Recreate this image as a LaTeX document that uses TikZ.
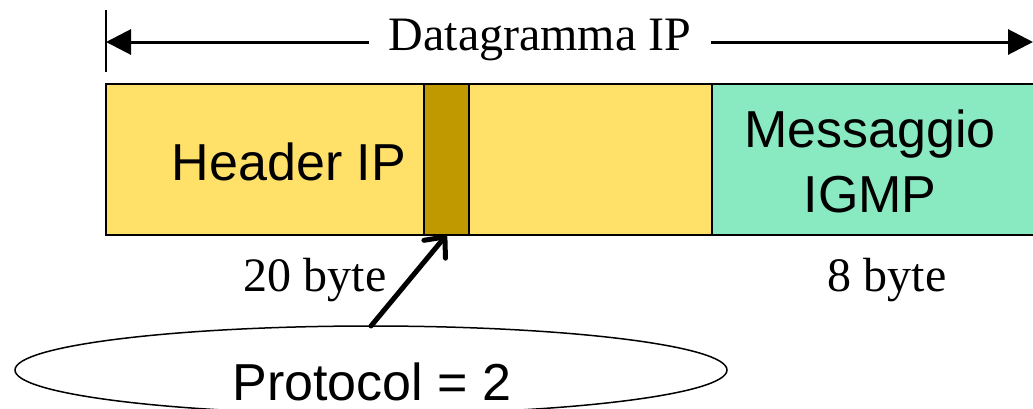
\documentclass[tikz,border=0pt]{standalone}
\usepackage{fontspec}
\setmainfont{Liberation Serif}
\setsansfont{Liberation Sans}
\usetikzlibrary{shapes.geometric, arrows.meta, positioning}
\definecolor{hdryellow}{RGB}{255,224,105}
\definecolor{protofield}{RGB}{192,152,0}
\definecolor{igmpgreen}{RGB}{137,233,193}

\begin{document}
\begin{tikzpicture}[x=1pt,y=-1pt]
      \useasboundingbox (0,0) rectangle (1033,408);
          % Setup the styles for the fields and the texts
          \tikzset{field style/.style={draw, line width=1.5pt,
                                       inner sep=0pt, outer sep=0pt,
                                       minimum height=151pt},
                   big sans/.style={font=\sffamily\fontsize{52}{62}\selectfont,
                                    inner sep=0pt, anchor=base},
                   big serif/.style={font=\fontsize{48}{58}\selectfont,
                                     inner sep=0pt, anchor=base},
                   dim arrow/.style={line width=3pt,
                                     -{Triangle[length=25pt,width=25pt]}}}
          % Draw the fields of the datagram
          \node[field style, anchor=north west, fill=hdryellow,
                minimum width=318pt] at (106,84) (header) {};
          \node[field style, right=0pt of header, fill=protofield,
                minimum width=45pt] (proto) {};
          \node[field style, right=0pt of proto, fill=hdryellow,
                minimum width=243pt] (rest) {};
          \node[field style, right=0pt of rest, fill=igmpgreen,
                minimum width=333pt] (igmp) {};
          % Texts inside the fields
          \node[big sans] at (289,180) (headertext) {Header IP};
          \node[big sans] at (870,147) (igmptextA) {Messaggio};
          \node[big sans] at (870,212) (igmptextB) {IGMP};
          % Length of the datagram
          \coordinate (dgleft) at (106,42);
          \coordinate (dgright) at (1033,42);
          \draw[line width=2pt] (106,10) -- (106,72);
          \node[big serif, inner xsep=20pt] at (540,50) (dgtext) {Datagramma IP};
          \draw[dim arrow] (dgtext.west |- dgleft) -- (dgleft);
          \draw[dim arrow] (dgtext.east |- dgright) -- (dgright);
          % Sizes
          \node[big serif] at (315,291) (hdrsize) {20 byte};
          \node[big serif] at (887,291) (igmpsize) {8 byte};
          % Protocol field
          \node[draw, ellipse, line width=1.5pt, inner sep=0pt, outer sep=0pt,
                minimum width=712pt, minimum height=88pt] at (371,370) (protoell) {};
          \node[big sans, text depth=0pt] at (372,400) (prototext) {Protocol = 2};
          \draw[line width=5pt, line cap=round,
                -{Straight Barb[length=16pt,width=28pt,round]}]
             (protoell.north) -- (proto.south);
      \end{tikzpicture}
\end{document}
